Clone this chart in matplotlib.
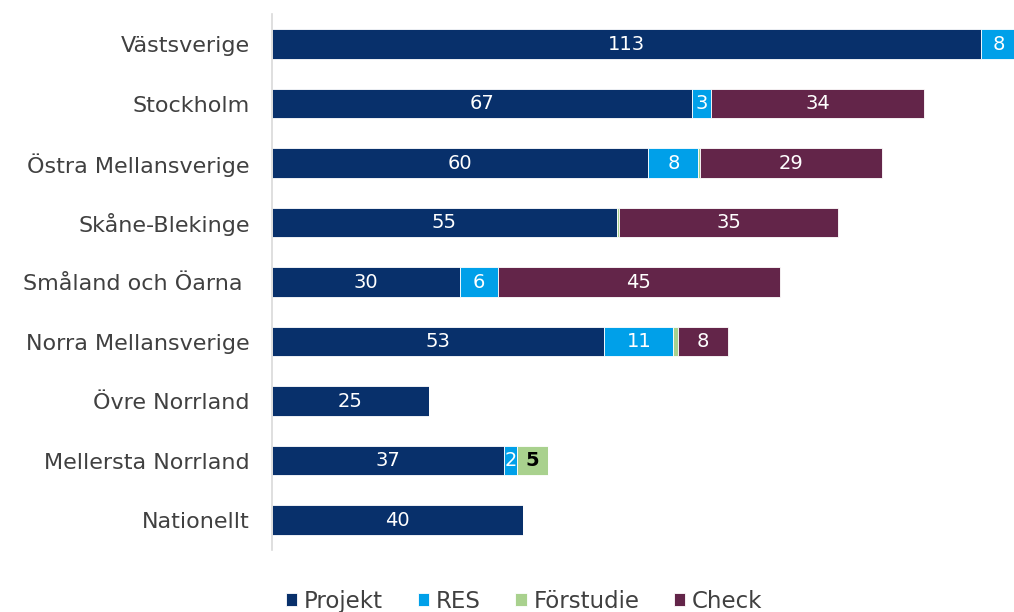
import matplotlib.pyplot as plt
import numpy as np

plt.rcParams["font.family"] = ["DejaVu Sans"]

regions = ["Västsverige", "Stockholm", "Östra Mellansverige", "Skåne-Blekinge",
           "Småland och Öarna ", "Norra Mellansverige", "Övre Norrland",
           "Mellersta Norrland", "Nationellt"]
projekt = [113, 67, 60, 55, 30, 53, 25, 37, 40]
res = [8, 3, 8, 0, 6, 11, 0, 2, 0]
forstudie = [0, 0, 0.3, 0.3, 0, 0.7, 0, 5, 0]
check = [0, 34, 29, 35, 45, 8, 0, 0, 0]

series = [("Projekt", projekt, "#08306b", "white"),
          ("RES", res, "#00a0e9", "white"),
          ("Förstudie", forstudie, "#a9d18e", "black"),
          ("Check", check, "#632549", "white")]

fig = plt.figure(figsize=(10.14, 6.12), dpi=100)
ax = fig.add_axes([0.2682, 0.1017, 0.7318, 0.875])

y = np.arange(len(regions))
left = np.zeros(len(regions))
for name, vals, col, tcol in series:
    vals = np.array(vals, dtype=float)
    ax.barh(y, vals, left=left, height=0.5, color=col, edgecolor="white",
            linewidth=0.6, label=name)
    for yi, (l, v) in enumerate(zip(left, vals)):
        if v >= 2:
            cx = l + v / 2
            if l + v > 118.3:
                cx = (l + 118.3) / 2 + 0.3
            ax.text(cx, yi, f"{v:g}", ha="center", va="center", color=tcol,
                    fontsize=14, fontweight="bold" if tcol == "black" else "normal")
    left += vals

ax.set_xlim(0, 118.3)
ax.set_ylim(len(regions) - 0.5, -0.5)
ax.set_yticks(y)
ax.set_yticklabels(regions, fontsize=16, color="#404040")
ax.tick_params(axis="y", length=0, pad=16)
ax.set_xticks([])
for s in ["top", "right", "bottom"]:
    ax.spines[s].set_visible(False)
ax.spines["left"].set_color("#d9d9d9")
ax.spines["left"].set_linewidth(1.2)

fig.legend(loc="lower center", bbox_to_anchor=(0.517, -0.035), ncol=4, frameon=False,
           fontsize=16.5, handlelength=0.5, handleheight=0.5, handletextpad=0.3,
           columnspacing=1.5, labelcolor="#404040")

fig.savefig("out.png", dpi=100)
